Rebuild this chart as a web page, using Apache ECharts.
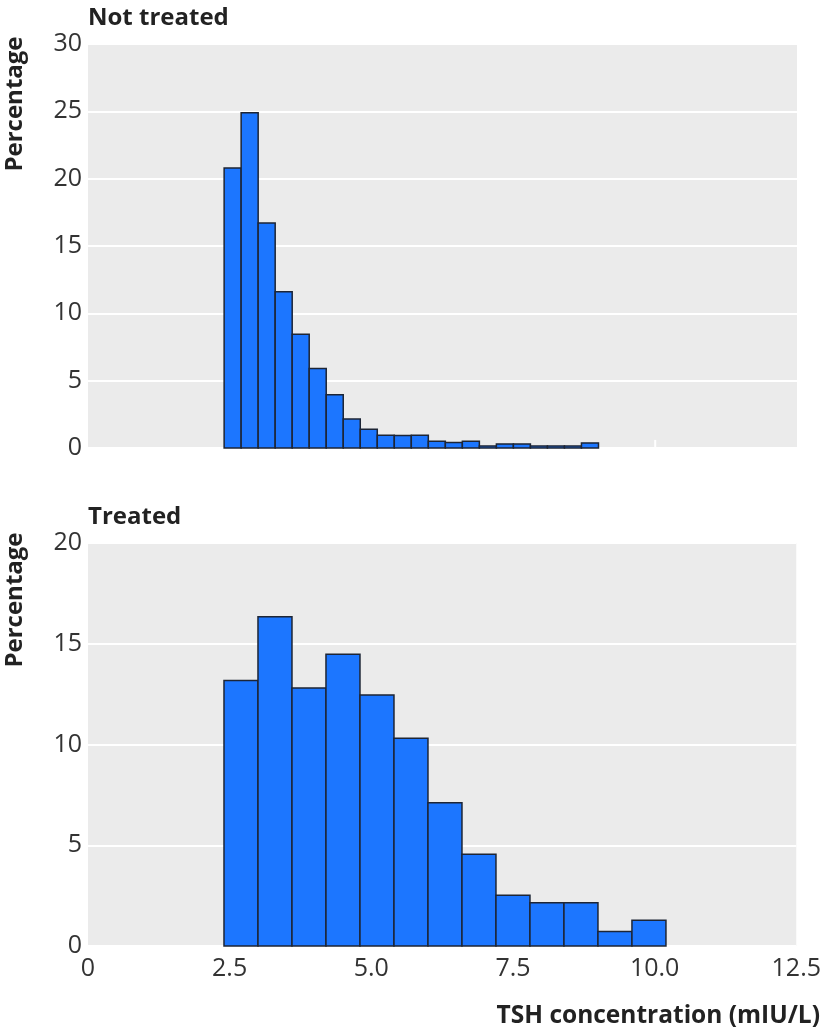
<!DOCTYPE html>
<html>
<head>
<meta charset="utf-8">
<script src="https://cdn.jsdelivr.net/npm/echarts@6/dist/echarts.min.js"></script>
<style>
html,body{margin:0;padding:0;background:#fff;}
#chart{width:824px;height:1036px;}
</style>
</head>
<body>
<div id="chart"></div>
<script>
// ---- Data ----
const xTickLabels = ["0", "2.5", "5.0", "7.5", "10.0", "12.5"];
const xTickValues = [0, 2.5, 5, 7.5, 10, 12.5];

// Not treated: bins of 0.3 mIU/L
const notTreatedBinStart = [2.4, 2.7, 3.0, 3.3, 3.6, 3.9, 4.2, 4.5, 4.8, 5.1, 5.4, 5.7, 6.0, 6.3, 6.6, 6.9, 7.2, 7.5, 7.8, 8.1, 8.4, 8.7];
const notTreatedBinEnd   = [2.7, 3.0, 3.3, 3.6, 3.9, 4.2, 4.5, 4.8, 5.1, 5.4, 5.7, 6.0, 6.3, 6.6, 6.9, 7.2, 7.5, 7.8, 8.1, 8.4, 8.7, 9.0];
const notTreatedPct      = [20.8, 24.9, 16.7, 11.6, 8.45, 5.9, 3.95, 2.15, 1.4, 0.95, 0.93, 0.95, 0.5, 0.4, 0.5, 0.15, 0.3, 0.3, 0.15, 0.15, 0.15, 0.38];

// Treated: bins of 0.6 mIU/L
const treatedBinStart = [2.4, 3.0, 3.6, 4.2, 4.8, 5.4, 6.0, 6.6, 7.2, 7.8, 8.4, 9.0, 9.6];
const treatedBinEnd   = [3.0, 3.6, 4.2, 4.8, 5.4, 6.0, 6.6, 7.2, 7.8, 8.4, 9.0, 9.6, 10.2];
const treatedPct      = [13.17, 16.34, 12.8, 14.48, 12.46, 10.31, 7.11, 4.55, 2.52, 2.15, 2.15, 0.72, 1.28];

const topYTicks = [0, 5, 10, 15, 20, 25, 30];
const bottomYTicks = [0, 5, 10, 15, 20];

// small white grid stub visible at x = 10 in the top panel
const topStubX = [10, 10];
const topStubY = [0, 0.6];

// ---- Build ----
const FONT = '"Open Sans", "Noto Sans", sans-serif';
const BAR_FILL = '#1C76FF';
const BAR_STROKE = '#1d2535';

function rows(starts, ends, vals) {
  return starts.map((s, i) => [s, ends[i], vals[i]]);
}

function renderBin(params, api) {
  const x0 = api.value(0), x1 = api.value(1), y = api.value(2);
  const p0 = api.coord([x0, y]);
  const p1 = api.coord([x1, 0]);
  return {
    type: 'rect',
    shape: { x: p0[0], y: p0[1], width: p1[0] - p0[0], height: p1[1] - p0[1] },
    style: { fill: BAR_FILL, stroke: BAR_STROKE, lineWidth: 1.5 }
  };
}

const xLabelFmt = v => {
  const i = xTickValues.findIndex(t => Math.abs(t - v) < 1e-9);
  return i >= 0 ? xTickLabels[i] : '';
};

const yAxisCommon = {
  type: 'value',
  axisLine: { show: false },
  axisTick: { show: false },
  splitLine: { show: true, lineStyle: { color: '#ffffff', width: 2 } },
  axisLabel: { color: '#333333', fontSize: 25, fontFamily: FONT, margin: 6 }
};

const option = {
  backgroundColor: '#ffffff',
  animation: false,
  grid: [
    { left: 88, right: 27, top: 44, height: 404, show: true, backgroundColor: '#EBEBEB', borderWidth: 0 },
    { left: 88, right: 27, top: 543, height: 403, show: true, backgroundColor: '#EBEBEB', borderWidth: 0 }
  ],
  xAxis: [
    { type: 'value', gridIndex: 0, min: 0, max: 12.5, interval: 2.5,
      axisLine: { show: false }, axisTick: { show: false }, axisLabel: { show: false }, splitLine: { show: false } },
    { type: 'value', gridIndex: 1, min: 0, max: 12.5, interval: 2.5,
      axisLine: { show: false }, axisTick: { show: false }, splitLine: { show: false },
      axisLabel: { color: '#333333', fontSize: 25, fontFamily: FONT, margin: 10, formatter: xLabelFmt } }
  ],
  yAxis: [
    Object.assign({}, yAxisCommon, { gridIndex: 0, min: topYTicks[0], max: topYTicks[topYTicks.length - 1], interval: 5 }),
    Object.assign({}, yAxisCommon, { gridIndex: 1, min: bottomYTicks[0], max: bottomYTicks[bottomYTicks.length - 1], interval: 5 })
  ],
  series: [
    { type: 'line', name: 'stub', xAxisIndex: 0, yAxisIndex: 0, silent: true, symbol: 'none',
      lineStyle: { color: '#ffffff', width: 2 }, z: 1,
      data: topStubX.map((x, i) => [x, topStubY[i]]) },
    { type: 'custom', name: 'Not treated', xAxisIndex: 0, yAxisIndex: 0,
      renderItem: renderBin, encode: { x: [0, 1], y: 2 },
      data: rows(notTreatedBinStart, notTreatedBinEnd, notTreatedPct) },
    { type: 'custom', name: 'Treated', xAxisIndex: 1, yAxisIndex: 1,
      renderItem: renderBin, encode: { x: [0, 1], y: 2 },
      data: rows(treatedBinStart, treatedBinEnd, treatedPct) }
  ],
  graphic: [
    { type: 'text', left: 88, top: 6, style: { text: 'Not treated', font: 'bold 24px ' + FONT, fill: '#222222' } },
    { type: 'text', left: 88, top: 505, style: { text: 'Treated', font: 'bold 24px ' + FONT, fill: '#222222' } },
    { type: 'text', x: 15, y: 104, rotation: Math.PI / 2,
      style: { text: 'Percentage', font: 'bold 24px ' + FONT, fill: '#222222', align: 'center', verticalAlign: 'middle' } },
    { type: 'text', x: 15, y: 600, rotation: Math.PI / 2,
      style: { text: 'Percentage', font: 'bold 24px ' + FONT, fill: '#222222', align: 'center', verticalAlign: 'middle' } },
    { type: 'text', right: 4, top: 1004,
      style: { text: 'TSH concentration (mIU/L)', font: 'bold 24.5px ' + FONT, fill: '#222222' } }
  ]
};

const chart = echarts.init(document.getElementById('chart'), null, { renderer: 'canvas' });
chart.setOption(option);
</script>
</body>
</html>
